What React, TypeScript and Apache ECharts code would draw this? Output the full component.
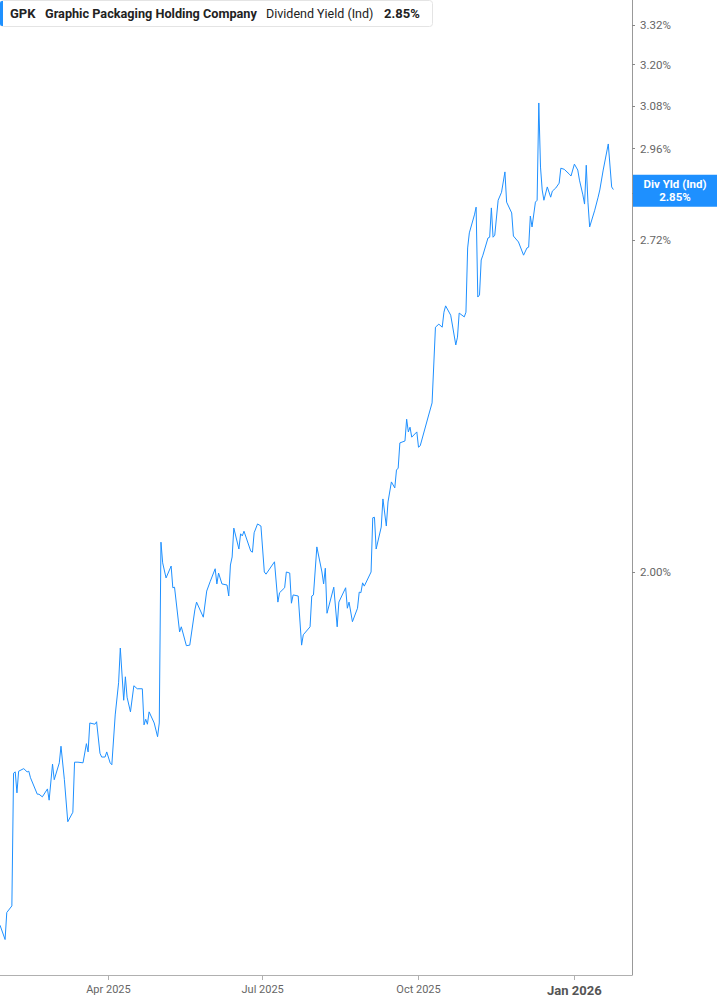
import { useEffect, useRef } from 'react'
import * as echarts from 'echarts'

// trading dates (vertices)
const dates = [
  '2025-01-27', '2025-01-30', '2025-01-31', '2025-02-03', '2025-02-04', '2025-02-05', '2025-02-06', '2025-02-07', '2025-02-10', '2025-02-12',
  '2025-02-13', '2025-02-14', '2025-02-18', '2025-02-19', '2025-02-21', '2025-02-24', '2025-02-25', '2025-02-27', '2025-02-28', '2025-03-03',
  '2025-03-04', '2025-03-06', '2025-03-08', '2025-03-11', '2025-03-12', '2025-03-14', '2025-03-17', '2025-03-19', '2025-03-20', '2025-03-21',
  '2025-03-24', '2025-03-25', '2025-03-27', '2025-03-28', '2025-03-30', '2025-03-31', '2025-04-02', '2025-04-03', '2025-04-05', '2025-04-07',
  '2025-04-08', '2025-04-10', '2025-04-11', '2025-04-12', '2025-04-14', '2025-04-16', '2025-04-18', '2025-04-21', '2025-04-22', '2025-04-23',
  '2025-04-24', '2025-04-25', '2025-04-28', '2025-04-30', '2025-05-01', '2025-05-02', '2025-05-03', '2025-05-05', '2025-05-08', '2025-05-09',
  '2025-05-10', '2025-05-13', '2025-05-14', '2025-05-17', '2025-05-19', '2025-05-22', '2025-05-23', '2025-05-27', '2025-05-29', '2025-05-31',
  '2025-06-03', '2025-06-04', '2025-06-05', '2025-06-07', '2025-06-10', '2025-06-11', '2025-06-12', '2025-06-13', '2025-06-14', '2025-06-17',
  '2025-06-18', '2025-06-19', '2025-06-20', '2025-06-24', '2025-06-25', '2025-06-26', '2025-06-28', '2025-06-30', '2025-07-02', '2025-07-03',
  '2025-07-08', '2025-07-10', '2025-07-11', '2025-07-14', '2025-07-15', '2025-07-17', '2025-07-18', '2025-07-19', '2025-07-22', '2025-07-24',
  '2025-07-25', '2025-07-29', '2025-07-30', '2025-07-31', '2025-08-02', '2025-08-05', '2025-08-06', '2025-08-07', '2025-08-08', '2025-08-12',
  '2025-08-14', '2025-08-15', '2025-08-19', '2025-08-20', '2025-08-21', '2025-08-23', '2025-08-26', '2025-08-27', '2025-08-28', '2025-08-29',
  '2025-08-30', '2025-09-03', '2025-09-04', '2025-09-05', '2025-09-06', '2025-09-09', '2025-09-10', '2025-09-12', '2025-09-13', '2025-09-15',
  '2025-09-17', '2025-09-18', '2025-09-19', '2025-09-20', '2025-09-23', '2025-09-24', '2025-09-25', '2025-09-26', '2025-09-27', '2025-09-30',
  '2025-10-01', '2025-10-02', '2025-10-07', '2025-10-09', '2025-10-11', '2025-10-13', '2025-10-15', '2025-10-16', '2025-10-17', '2025-10-20',
  '2025-10-21', '2025-10-23', '2025-10-24', '2025-10-25', '2025-10-28', '2025-10-29', '2025-10-30', '2025-10-31', '2025-11-03', '2025-11-04',
  '2025-11-05', '2025-11-06', '2025-11-07', '2025-11-08', '2025-11-11', '2025-11-12', '2025-11-13', '2025-11-14', '2025-11-15', '2025-11-17',
  '2025-11-19', '2025-11-21', '2025-11-22', '2025-11-25', '2025-11-26', '2025-11-29', '2025-12-02', '2025-12-04', '2025-12-05', '2025-12-06',
  '2025-12-07', '2025-12-09', '2025-12-10', '2025-12-11', '2025-12-12', '2025-12-13', '2025-12-14', '2025-12-16', '2025-12-18', '2025-12-19',
  '2025-12-21', '2025-12-23', '2025-12-24', '2025-12-26', '2025-12-29', '2025-12-30', '2026-01-01', '2026-01-03', '2026-01-04', '2026-01-06',
  '2026-01-07', '2026-01-08', '2026-01-09', '2026-01-10', '2026-01-13', '2026-01-15', '2026-01-16', '2026-01-18', '2026-01-21', '2026-01-23',
  '2026-01-24',
]

// dividend yield (%)
const yields = [
  1.442, 1.423, 1.459, 1.468, 1.660, 1.662, 1.630, 1.663, 1.667, 1.662,
  1.663, 1.653, 1.628, 1.628, 1.624, 1.636, 1.619, 1.674, 1.650, 1.676,
  1.702, 1.650, 1.587, 1.601, 1.677, 1.677, 1.676, 1.706, 1.693, 1.739,
  1.737, 1.741, 1.691, 1.685, 1.685, 1.693, 1.676, 1.673, 1.752, 1.805,
  1.864, 1.776, 1.815, 1.781, 1.757, 1.800, 1.795, 1.795, 1.736, 1.745,
  1.737, 1.757, 1.739, 1.717, 1.739, 2.056, 2.017, 1.989, 2.011, 1.971,
  1.972, 1.892, 1.901, 1.868, 1.869, 1.931, 1.945, 1.918, 1.965, 1.982,
  2.006, 1.978, 1.998, 1.978, 1.976, 1.956, 2.013, 2.028, 2.083, 2.043,
  2.072, 2.068, 2.077, 2.039, 2.037, 2.074, 2.091, 2.087, 2.000, 1.996,
  2.019, 1.945, 1.962, 1.971, 2.000, 1.998, 1.943, 1.958, 1.956, 1.869,
  1.887, 1.901, 1.956, 1.958, 2.047, 2.000, 1.978, 2.007, 1.925, 1.972,
  1.901, 1.945, 1.971, 1.934, 1.945, 1.910, 1.934, 1.963, 1.962, 1.980,
  1.974, 2.000, 2.103, 2.104, 2.043, 2.085, 2.140, 2.087, 2.134, 2.174,
  2.162, 2.198, 2.202, 2.254, 2.258, 2.304, 2.277, 2.287, 2.266, 2.277,
  2.245, 2.248, 2.313, 2.339, 2.509, 2.516, 2.509, 2.544, 2.559, 2.537,
  2.514, 2.468, 2.486, 2.542, 2.533, 2.544, 2.700, 2.738, 2.784, 2.804,
  2.580, 2.585, 2.670, 2.682, 2.725, 2.727, 2.802, 2.727, 2.732, 2.822,
  2.843, 2.897, 2.817, 2.789, 2.730, 2.715, 2.682, 2.700, 2.702, 2.781,
  2.753, 2.817, 2.822, 3.088, 2.910, 2.849, 2.822, 2.857, 2.830, 2.846,
  2.854, 2.867, 2.907, 2.904, 2.891, 2.886, 2.918, 2.902, 2.875, 2.836,
  2.812, 2.915, 2.817, 2.753, 2.796, 2.830, 2.849, 2.902, 2.973, 2.857,
  2.850,
]

// labelled ticks; 2.84% sits under the last-value tag, so only its tick shows
const yLabelTicks = [2.0, 2.72, 2.96, 3.08, 3.2, 3.32]
const yTicks = [2.0, 2.72, 2.84, 2.96, 3.08, 3.2, 3.32]
const xTicks = ['2025-04-01', '2025-07-01', '2025-10-01', '2026-01-01']
const monthNames = ['Jan', 'Feb', 'Mar', 'Apr', 'May', 'Jun', 'Jul', 'Aug', 'Sep', 'Oct', 'Nov', 'Dec']

const ticker = 'GPK'
const company = 'Graphic Packaging Holding Company'
const metric = 'Dividend Yield (Ind)'

const BLUE = '#1E90FF'

const ts = (s: string) => Date.parse(s + 'T00:00:00Z')

export default function App() {
  const chartRef = useRef<HTMLDivElement>(null)

  useEffect(() => {
    if (!chartRef.current) return
    const chart = echarts.init(chartRef.current, null, { renderer: 'svg' })
    const last = yields[yields.length - 1]

    // log scale: plot ln(yield) on a linear axis, dates as UTC timestamps
    const option = {
      animation: false,
      textStyle: { fontFamily: 'Roboto' },
      grid: { left: 0, right: 85, top: 0, bottom: 30 },
      xAxis: {
        type: 'value',
        min: ts('2025-01-27'),
        max: ts('2026-02-04'),
        axisLine: { show: true, onZero: false, lineStyle: { color: '#b0b0b0', width: 1 } },
        axisTick: { show: true, customValues: xTicks.map(ts), length: 5, lineStyle: { color: '#b0b0b0' } },
        splitLine: { show: false },
        axisLabel: {
          customValues: xTicks.map(ts),
          color: '#666',
          fontSize: 11,
          margin: 9,
          formatter: (v: number) => {
            const d = new Date(v)
            const s = monthNames[d.getUTCMonth()] + ' ' + d.getUTCFullYear()
            return d.getUTCMonth() === 0 ? '{b|' + s + '}' : s
          },
          rich: { b: { fontWeight: 'bold', fontSize: 13, color: '#555', fontFamily: 'Roboto' } },
        },
      },
      yAxis: {
        type: 'value',
        position: 'right',
        min: Math.log(1.377),
        max: Math.log(3.397),
        axisLine: { show: true, lineStyle: { color: '#999', width: 1 } },
        axisTick: { show: true, customValues: yTicks.map(Math.log), length: 3, lineStyle: { color: '#888' } },
        splitLine: { show: false },
        axisLabel: {
          customValues: yLabelTicks.map(Math.log),
          color: '#666',
          fontSize: 11.5,
          margin: 8,
          formatter: (v: number) => Math.exp(v).toFixed(2) + '%',
        },
      },
      series: [
        {
          type: 'line',
          data: dates.map((d, i) => [ts(d), Math.log(yields[i])]),
          showSymbol: false,
          lineStyle: { color: BLUE, width: 1 },
          itemStyle: { color: BLUE },
          markLine: {
            silent: true,
            symbol: ['none', 'none'],
            lineStyle: { color: 'rgba(0,0,0,0)', width: 0, type: 'solid' },
            data: [{ yAxis: Math.log(last) }],
            label: {
              show: true,
              position: 'end',
              distance: 1,
              offset: [0, 4],
              backgroundColor: BLUE,
              padding: [3, 0, 3, 0],
              formatter: () => '{a|Div Yld (Ind)}\n{a|' + last.toFixed(2) + '%}',
              rich: {
                a: { width: 84, align: 'center', color: '#fff', fontWeight: 'bold', fontSize: 11.5, lineHeight: 13, fontFamily: 'Roboto' },
              },
            },
          },
        },
      ],
      graphic: [
        {
          type: 'group',
          left: 0,
          top: 0,
          children: [
            { type: 'rect', shape: { x: 3.5, y: 4.5, width: 432, height: 26, r: 3 }, style: { fill: '#fff', stroke: '#e4e4e4', lineWidth: 1 } },
            { type: 'rect', shape: { x: 3, y: 5, width: 3, height: 25, r: [2, 0, 0, 2] }, style: { fill: BLUE } },
            { type: 'text', x: 13, y: 17.5, style: { text: ticker, fontSize: 13, fontWeight: 'bold', fontFamily: 'Roboto', fill: '#222', verticalAlign: 'middle' } },
            { type: 'text', x: 48, y: 17.5, style: { text: company, fontSize: 12.7, fontWeight: 'bold', fontFamily: 'Roboto', fill: '#222', verticalAlign: 'middle' } },
            { type: 'text', x: 269, y: 17.5, style: { text: metric, fontSize: 12.5, fontFamily: 'Roboto', fill: '#222', verticalAlign: 'middle' } },
            { type: 'text', x: 387, y: 17.5, style: { text: last.toFixed(2) + '%', fontSize: 13, fontWeight: 'bold', fontFamily: 'Roboto', fill: '#222', verticalAlign: 'middle' } },
          ],
        },
      ],
    }

    chart.setOption(option)

    return () => {
      chart.dispose()
    }
  }, [])

  return <div ref={chartRef} style={{ position: 'absolute', left: 0, top: 0, width: '717px', height: '1005px' }} />
}
